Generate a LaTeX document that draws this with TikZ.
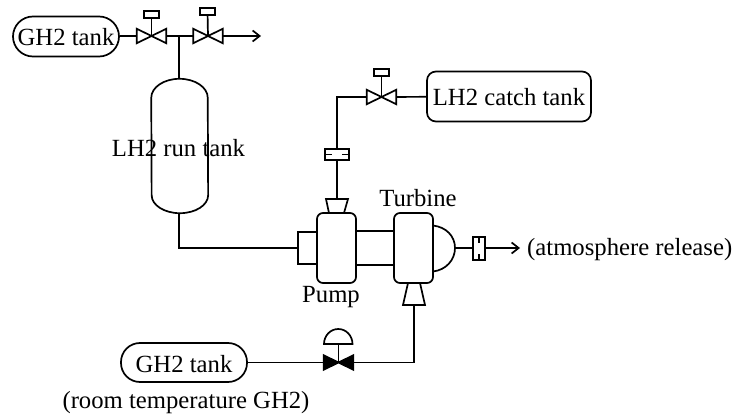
\documentclass[tikz,border=0pt]{standalone}
\usepackage{fontspec}
\setmainfont{Liberation Serif}
\usetikzlibrary{arrows.meta}
\tikzset{
  pipe/.style={line width=1.7pt,line join=miter},
  flow/.style={pipe,-{Straight Barb[length=7pt,width=11pt,line width=1.7pt]}},
  lbl/.style={inner sep=0pt,font=\fontsize{24.7pt}{26pt}\selectfont},
  box/.style={draw,line width=1.7pt,inner sep=0pt,minimum width=#1},
  box/.default=10pt,
  rbox/.style={draw,line width=1.7pt,inner sep=0pt,rounded corners=#1},
  spot/.style={inner sep=0pt,minimum width=29pt,minimum height=14pt}
}
% \valvesym{name}{x}{y}{fill}
\newcommand{\valvesym}[4]{%
  \node[spot] (#1) at (#2,#3) {};
  \draw[pipe,fill=#4] (#1.north west) -- (#1.south east) -- (#1.north east) -- (#1.south west) -- cycle;
}
\begin{document}
\begin{tikzpicture}[x=1pt,y=-1pt]
\useasboundingbox (0,0) rectangle (734,414);
% top tank and valves
\node[rbox=20pt,minimum width=106pt,minimum height=40pt] (gtop) at (66,36.5) {};
\node[lbl] (gtoplbl) at (66,37) {GH2 tank};
\valvesym{v1}{151.5}{36}{white}
\valvesym{v2}{208}{36}{white}
\node[box=15pt,minimum height=7pt] (h1) at (151.5,14.5) {};
\node[box=15pt,minimum height=7pt] (h2) at (207.5,11.5) {};
\draw[pipe] (h1) -- (v1.center);
\draw[pipe] (h2) -- (v2.center);
\coordinate (jn) at (179,36);
\coordinate (out1) at (261,36);
\draw[pipe] (gtop.east |- v1) -- (v1);
\draw[pipe] (v1) -- (v2);
\draw[flow] (v2) -- (out1);
% run tank
\node[inner sep=0pt,minimum width=56.5pt,minimum height=134pt] (run) at (179.7,146) {};
\draw[pipe] ([yshift=-19pt]run.north west) arc[start angle=180,end angle=0,x radius=28.25,y radius=-19]
  -- ([yshift=18pt]run.south east) arc[start angle=0,end angle=-180,x radius=28.25,y radius=-18] -- cycle;
\node[lbl] (runlbl) at (178.5,148) {LH2 run tank};
\draw[pipe] (jn) -- (run.north -| jn);
% pump
\node[rbox=6pt,minimum width=39pt,minimum height=70pt] (pump) at (336.5,248) {};
\node[box=19pt,minimum height=32pt] (inlet) at (307.5,248) {};
\draw[pipe] (run.south -| jn) |- (inlet.west);
\node[lbl] (pumplbl) at (331,297) {Pump};
% turbine
\node[rbox=6pt,minimum width=39pt,minimum height=70pt] (turb) at (413.5,248) {};
\node[lbl] (turblbl) at (418,198) {Turbine};
\draw[pipe] (pump.east |- inlet.north) -- (turb.west |- inlet.north);
\draw[pipe] (pump.east |- inlet.south) -- (turb.west |- inlet.south);
% exhaust dome
\coordinate (da) at (433,225.5);
\coordinate (db) at (433,271.5);
\coordinate (dc) at (455,248);
\draw[pipe] (da) .. controls (446,227) and (455,236) .. (dc) .. controls (455,260) and (446,270) .. (db);
\node[box=12pt,minimum height=23pt] (orf) at (479,248.5) {};
\draw[pipe] (orf.north) -- +(0,7);
\draw[pipe] (orf.south) -- +(0,-7);
\draw[pipe] (dc) -- (orf.west |- dc);
\coordinate (out2) at (520,248);
\draw[flow] (orf.east |- out2) -- (out2);
\node[lbl,anchor=west] (atm) at (527,250) {(atmosphere release)};
% catch line
\node[rbox=9pt,minimum width=164pt,minimum height=50pt] (catch) at (509,96.5) {};
\node[lbl] (catchlbl) at (509,97) {LH2 catch tank};
\valvesym{v3}{381.5}{97}{white}
\node[box=15pt,minimum height=7pt] (h3) at (381.5,72.5) {};
\draw[pipe] (h3) -- (v3.center);
\draw[pipe] (catch) -- (v3);
\node[box=24pt,minimum height=11pt] (orf2) at (337,154.5) {};
\draw[pipe] (orf2.west) -- +(8,0);
\draw[pipe] (orf2.east) -- +(-8,0);
\draw[pipe] (v3.west) -| (orf2.north);
\coordinate (ptop) at (337,199);
\draw[pipe] (orf2.south) -- (ptop);
\draw[pipe] (326,199) -- (348,199) -- (344,213) -- (329,213) -- cycle;
% bottom line
\node[rbox=19pt,minimum width=126pt,minimum height=39pt] (glow) at (184,362.5) {};
\node[lbl] (glowlbl) at (184,364) {GH2 tank};
\node[lbl] (rtlbl) at (186,403) {(room temperature GH2)};
\valvesym{v4}{338.5}{362.5}{black}
\coordinate (stem) at (338.5,344);
\draw[pipe] (v4.center) -- (stem);
\draw[pipe,fill=white] (324,344) -- (352.5,344) arc[start angle=0,end angle=-180,x radius=14.25,y radius=15] -- cycle;
\draw[pipe] (glow) -- (v4);
\coordinate (tin) at (414,305);
\draw[pipe] (v4.east) -| (tin);
\draw[pipe] (408,283) -- (420,283) -- (425,305) -- (403,305) -- cycle;
\end{tikzpicture}
\end{document}
